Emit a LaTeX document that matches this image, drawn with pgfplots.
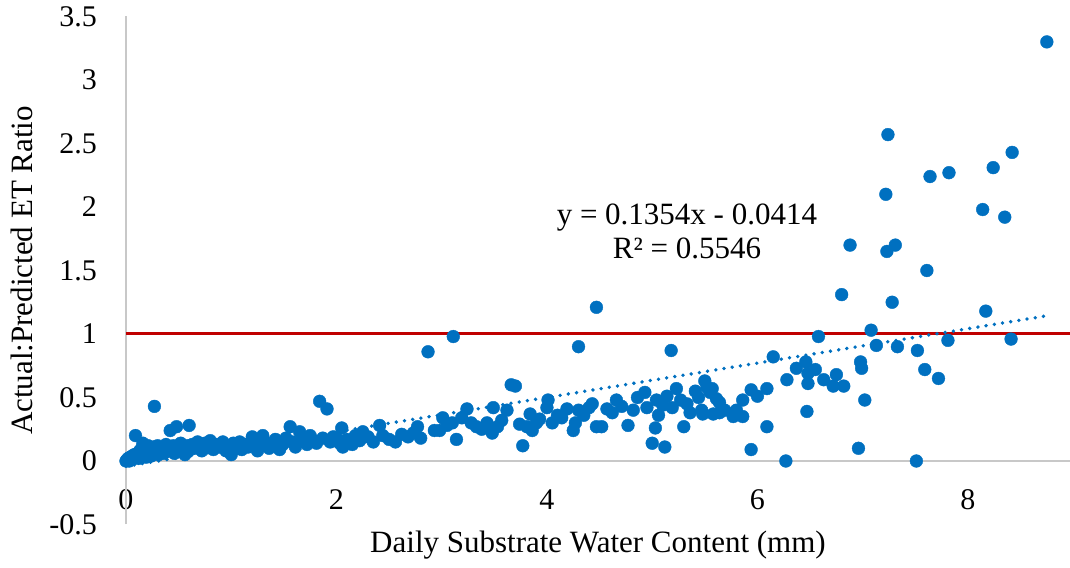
\documentclass[border=0pt]{standalone}
\usepackage{pgfplots}
\pgfplotsset{compat=1.18}
\usepackage{pgfplotstable}
\usepackage{fontspec}
\setmainfont{Liberation Serif}

\definecolor{dotblue}{RGB}{0,112,192}
\definecolor{refred}{RGB}{192,0,0}
\definecolor{axgray}{RGB}{200,200,200}

% daily substrate water content (mm) vs actual:predicted ET ratio
\pgfplotstableread{
x y
0.00 0.00
0.01 0.01
0.02 0.02
0.03 0.00
0.04 0.03
0.05 0.01
0.06 0.04
0.07 0.02
0.08 0.05
0.09 0.20
0.10 0.03
0.11 0.06
0.12 0.02
0.13 0.08
0.14 0.04
0.15 0.10
0.16 0.14
0.17 0.05
0.18 0.07
0.19 0.03
0.20 0.09
0.21 0.12
0.22 0.06
0.24 0.04
0.25 0.10
0.26 0.11
0.27 0.43
0.28 0.07
0.30 0.12
0.31 0.05
0.33 0.09
0.35 0.11
0.36 0.06
0.38 0.13
0.40 0.08
0.42 0.24
0.43 0.10
0.45 0.12
0.46 0.06
0.48 0.27
0.50 0.09
0.52 0.14
0.54 0.11
0.56 0.05
0.58 0.12
0.60 0.28
0.61 0.09
0.63 0.13
0.65 0.10
0.68 0.15
0.70 0.12
0.72 0.08
0.75 0.14
0.78 0.11
0.80 0.16
0.83 0.09
0.86 0.13
0.89 0.11
0.92 0.15
0.95 0.08
0.98 0.12
1.00 0.05
1.02 0.14
1.05 0.10
1.08 0.15
1.10 0.09
1.13 0.13
1.16 0.11
1.20 0.19
1.22 0.12
1.25 0.08
1.28 0.16
1.30 0.20
1.33 0.13
1.36 0.10
1.39 0.14
1.42 0.17
1.46 0.09
1.49 0.13
1.52 0.18
1.56 0.27
1.58 0.15
1.61 0.11
1.65 0.23
1.68 0.17
1.72 0.13
1.75 0.20
1.78 0.16
1.81 0.14
1.84 0.47
1.87 0.18
1.91 0.41
1.94 0.15
1.97 0.19
2.00 0.18
2.03 0.14
2.05 0.26
2.06 0.11
2.10 0.17
2.15 0.13
2.18 0.20
2.22 0.16
2.25 0.23
2.30 0.19
2.35 0.15
2.41 0.28
2.44 0.20
2.50 0.17
2.56 0.15
2.62 0.21
2.68 0.19
2.73 0.22
2.77 0.27
2.80 0.18
2.87 0.86
2.93 0.24
2.98 0.24
3.01 0.34
3.05 0.28
3.10 0.30
3.11 0.98
3.14 0.17
3.19 0.34
3.24 0.41
3.28 0.30
3.33 0.27
3.38 0.25
3.43 0.30
3.48 0.22
3.49 0.42
3.53 0.27
3.57 0.32
3.62 0.40
3.66 0.60
3.70 0.59
3.74 0.29
3.77 0.12
3.81 0.27
3.84 0.37
3.86 0.24
3.90 0.30
3.93 0.33
4.00 0.42
4.01 0.48
4.05 0.30
4.10 0.36
4.14 0.34
4.19 0.41
4.25 0.24
4.27 0.30
4.30 0.40
4.30 0.90
4.35 0.36
4.40 0.42
4.43 0.45
4.47 1.21
4.47 0.27
4.52 0.27
4.57 0.41
4.62 0.38
4.66 0.48
4.71 0.43
4.77 0.28
4.82 0.40
4.86 0.50
4.93 0.54
4.95 0.42
5.00 0.14
5.03 0.26
5.04 0.48
5.06 0.36
5.10 0.44
5.12 0.11
5.14 0.51
5.18 0.87
5.19 0.42
5.23 0.57
5.27 0.48
5.30 0.27
5.33 0.45
5.36 0.38
5.41 0.55
5.44 0.50
5.47 0.40
5.48 0.37
5.50 0.63
5.52 0.58
5.55 0.54
5.57 0.57
5.58 0.37
5.61 0.49
5.64 0.46
5.64 0.38
5.69 0.40
5.77 0.35
5.80 0.40
5.86 0.48
5.86 0.35
5.94 0.56
5.94 0.09
6.00 0.51
6.09 0.57
6.09 0.27
6.15 0.82
6.27 0.00
6.28 0.64
6.37 0.73
6.46 0.78
6.47 0.39
6.48 0.69
6.48 0.61
6.55 0.72
6.58 0.98
6.63 0.64
6.72 0.59
6.75 0.68
6.80 1.31
6.82 0.59
6.88 1.70
6.96 0.10
6.98 0.78
6.99 0.73
7.02 0.48
7.08 1.03
7.13 0.91
7.22 2.10
7.23 1.65
7.24 2.57
7.28 1.25
7.31 1.70
7.33 0.90
7.51 0.00
7.52 0.87
7.59 0.72
7.61 1.50
7.64 2.24
7.72 0.65
7.81 0.95
7.82 2.27
8.14 1.98
8.17 1.18
8.24 2.31
8.35 1.92
8.41 0.96
8.42 2.43
8.75 3.30
}\etdata

% linear trend y = 0.1354x - 0.0414 at the ends of the data range
\pgfplotstableread{
x y
0.00 -0.0414
8.75 1.1434
}\trend

\begin{document}
\begin{tikzpicture}
\begin{axis}[
  scale only axis,
  width=944pt, height=508pt,
  xmin=0, xmax=8.97, ymin=-0.5, ymax=3.5,
  clip=false,
  axis line style={draw=none},
  major tick length=0pt,
  xtick={0,2,4,6,8},
  xticklabels={0,2,4,6,8},
  ytick={-0.5,0,0.5,1,1.5,2,2.5,3,3.5},
  yticklabels={-0.5,0,0.5,1,1.5,2,2.5,3,3.5},
  tick label style={font=\fontsize{30}{36}\selectfont},
  yticklabel style={anchor=east, inner sep=0pt, xshift=-29pt},
  xticklabel style={anchor=center, inner sep=0pt, yshift=25pt},
  xlabel={Daily Substrate Water Content (mm)},
  ylabel={Actual:Predicted ET Ratio},
  every axis x label/.style={at={([yshift=-28pt]rel axis cs:0.5,0)}, anchor=base, inner sep=0pt, font=\fontsize{31}{37}\selectfont},
  every axis y label/.style={at={([xshift=-93pt]rel axis cs:0,0.5)}, anchor=base, rotate=90, inner sep=0pt, font=\fontsize{31}{37}\selectfont},
]
% axis lines through the origin
\addplot[axgray, line width=1.4pt] coordinates {(0,-0.5) (0,3.5)};
\addplot[axgray, line width=1.4pt] coordinates {(0,0) (8.97,0)};
% reference ratio of 1
\addplot[refred, line width=3pt] coordinates {(0,1) (8.97,1)};
% observations
\addplot[only marks, mark=*, mark size=6.4pt, draw=dotblue, fill=dotblue, mark options={draw=dotblue, fill=dotblue}] table {\etdata};
% linear trend line
\addplot[dotblue, line width=3.8pt, line cap=round, dash pattern=on 0pt off 8.3pt] table {\trend};
% trend equation
\node[anchor=base, font=\fontsize{31}{37}\selectfont] at (axis cs:5.33,1.866) {y = 0.1354x - 0.0414};
\node[anchor=base, font=\fontsize{31}{37}\selectfont] at (axis cs:5.33,1.598) {R² = 0.5546};
\end{axis}
\pgfresetboundingbox
\path[use as bounding box] ([xshift=-126pt,yshift=-43.5pt]current axis.south west) rectangle ([yshift=16.5pt]current axis.north east);
\end{tikzpicture}
\end{document}
